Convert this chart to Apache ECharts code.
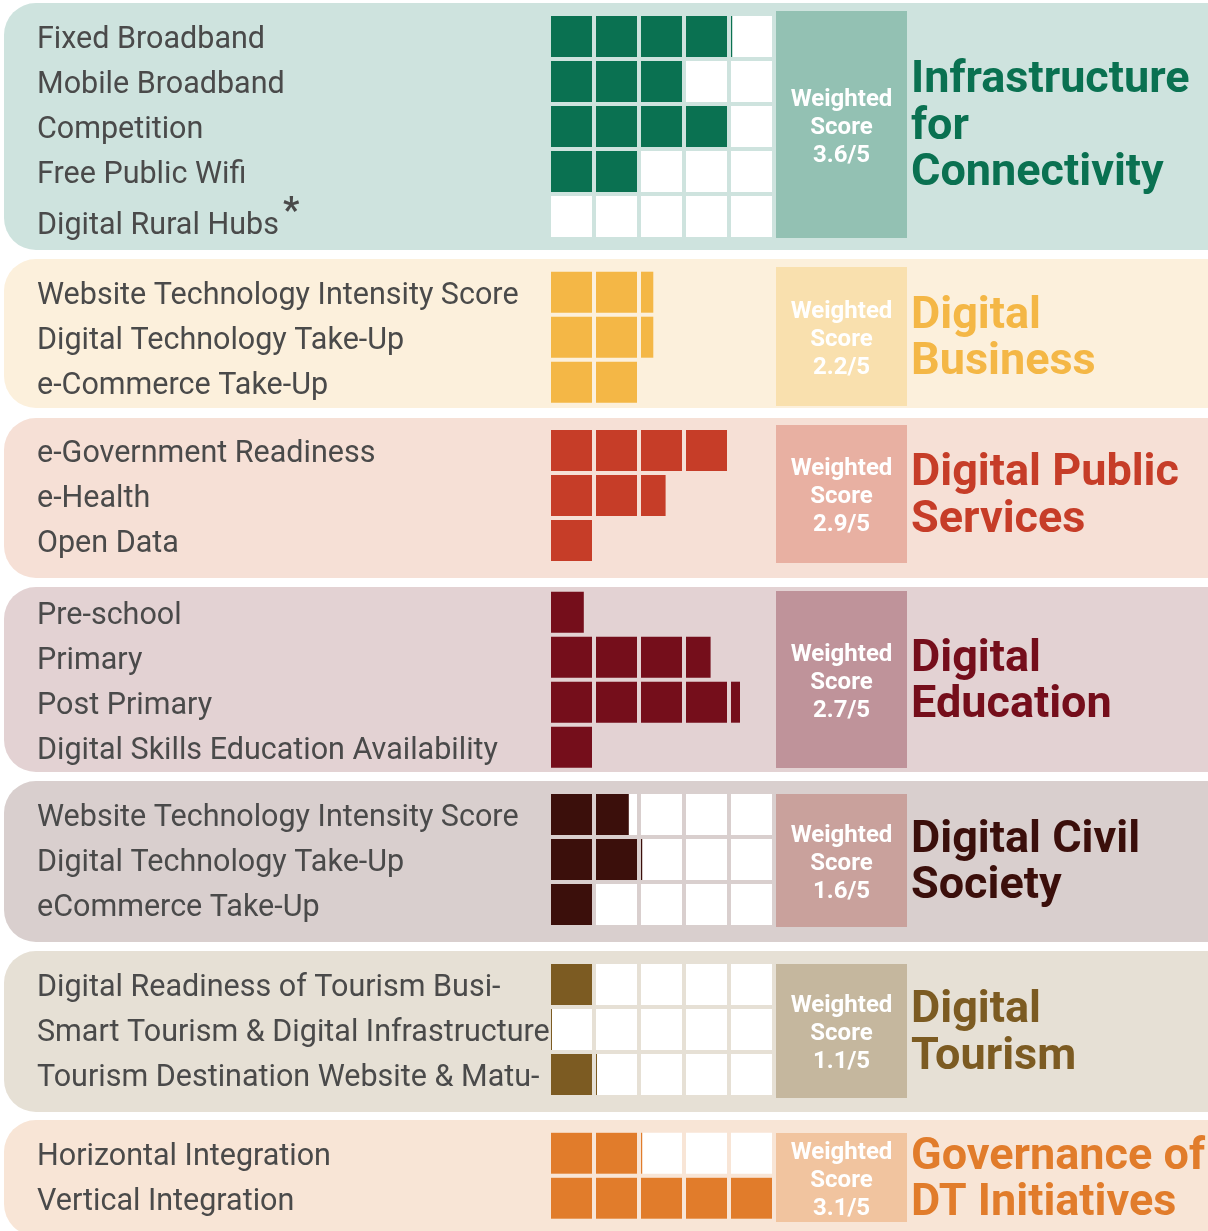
<!DOCTYPE html>
<html>
<head>
<meta charset="utf-8">
<title>Digital Transformation Scores</title>
<script src="https://cdn.jsdelivr.net/npm/echarts@6/dist/echarts.min.js"></script>
<style>
  html, body { margin: 0; padding: 0; background: #fff; }
  #chart { width: 1208px; height: 1231px; }
</style>
</head>
<body>
<div id="chart"></div>
<script>
// indicator scores out of 5, one cell per point
var infraLabels = ['Fixed Broadband', 'Mobile Broadband', 'Competition', 'Free Public Wifi', 'Digital Rural Hubs'];
var infraValues = [4.03, 3, 4, 2, 0];
var businessLabels = ['Website Technology Intensity Score', 'Digital Technology Take-Up', 'e-Commerce Take-Up'];
var businessValues = [2.3, 2.3, 2];
var publicLabels = ['e-Government Readiness', 'e-Health', 'Open Data'];
var publicValues = [4, 2.6, 1];
var educationLabels = ['Pre-school', 'Primary', 'Post Primary', 'Digital Skills Education Availability'];
var educationValues = [0.8, 3.6, 4.22, 1];
var civilLabels = ['Website Technology Intensity Score', 'Digital Technology Take-Up', 'eCommerce Take-Up'];
var civilValues = [1.8, 2.03, 1];
var tourismLabels = ['Digital Readiness of Tourism Busi-', 'Smart Tourism & Digital Infrastructure', 'Tourism Destination Website & Matu-'];
var tourismValues = [1, 0.02, 1.02];
var governanceLabels = ['Horizontal Integration', 'Vertical Integration'];
var governanceValues = [2.03, 5];

var pillarTitles = ['Infrastructure\nfor\nConnectivity', 'Digital\nBusiness', 'Digital Public\nServices',
  'Digital\nEducation', 'Digital Civil\nSociety', 'Digital\nTourism', 'Governance of\nDT Initiatives'];
var weightedScores = ['3.6/5', '2.2/5', '2.9/5', '2.7/5', '1.6/5', '1.1/5', '3.1/5'];

var panels = [
  { labels: infraLabels, values: infraValues, top: 14, empty: true, bg: [3, 250], box: [11, 238],
    fill: '#0a7151', panel: '#cee3de', boxColor: '#93c1b3' },
  { labels: businessLabels, values: businessValues, top: 269.7, empty: false, bg: [259, 408], box: [267, 406],
    fill: '#f4b746', panel: '#fcf0dc', boxColor: '#f9e0ae' },
  { labels: publicLabels, values: publicValues, top: 428, empty: false, bg: [418, 578], box: [425, 563],
    fill: '#c63d28', panel: '#f6e0d6', boxColor: '#e8b0a2' },
  { labels: educationLabels, values: educationValues, top: 589.7, empty: false, bg: [587, 772], box: [591, 768],
    fill: '#750e1b', panel: '#e3d2d3', boxColor: '#bf939a' },
  { labels: civilLabels, values: civilValues, top: 792, empty: true, bg: [781, 942], box: [794, 927],
    fill: '#3b0f0b', panel: '#d9cfce', boxColor: '#c9a19c' },
  { labels: tourismLabels, values: tourismValues, top: 962, empty: true, bg: [951, 1112], box: [964, 1098],
    fill: '#7c5b22', panel: '#e6e0d5', boxColor: '#c5b79e' },
  { labels: governanceLabels, values: governanceValues, top: 1130.7, empty: true, bg: [1120, 1236], box: [1133, 1222],
    fill: '#e17c2b', panel: '#f8e5d6', boxColor: '#f1c49f' }
];

var CELL = 41 / 45;
var labelFont = 'Roboto, "Noto Sans", sans-serif';

function cellRenderer(fillColor, showEmpty) {
  return function (params, api) {
    var row = api.value(0);
    var val = api.value(1);
    var bandH = api.size([0, 1])[1];
    var h = bandH * CELL;
    var kids = [];
    for (var k = 0; k < 5; k++) {
      var p0 = api.coord([k, row]);
      var p1 = api.coord([k + CELL, row]);
      var w = p1[0] - p0[0];
      var y = p0[1] - h / 2;
      if (showEmpty) {
        kids.push({ type: 'rect', shape: { x: p0[0], y: y, width: w, height: h }, style: { fill: '#ffffff' } });
      }
      var f = Math.max(0, Math.min(1, val - k));
      if (f > 0) {
        kids.push({ type: 'rect', shape: { x: p0[0], y: y, width: Math.max(w * f, 1), height: h }, style: { fill: fillColor } });
      }
    }
    return { type: 'group', children: kids };
  };
}

var grids = [], xAxes = [], yAxes = [], series = [], graphics = [];

panels.forEach(function (p, i) {
  grids.push({ left: 551, width: 225, top: p.top, height: p.labels.length * 45, containLabel: false, outerBoundsMode: 'none' });
  xAxes.push({ gridIndex: i, type: 'value', min: 0, max: 5, show: false });
  yAxes.push({
    gridIndex: i, type: 'category', inverse: true, data: p.labels, z: 5,
    axisLine: { show: false }, axisTick: { show: false }, splitLine: { show: false },
    axisLabel: {
      align: 'left', margin: 514, color: '#4a4a4a', fontSize: 30.5, fontFamily: labelFont,
      padding: [8, 0, 0, 0],
      formatter: function (v) {
        return v === 'Digital Rural Hubs' ? '{low|' + v + '}' : v;
      },
      rich: { low: { fontSize: 30.5, fontFamily: labelFont, color: '#4a4a4a', padding: [12, 0, 0, 0] } }
    }
  });
  series.push({
    type: 'custom', xAxisIndex: i, yAxisIndex: i, z: 3,
    renderItem: cellRenderer(p.fill, p.empty),
    data: p.values.map(function (v, r) { return [r, v]; }),
    encode: { x: 1, y: 0 }
  });

  // rounded panel background
  graphics.push({
    type: 'rect', z: -10, shape: { x: 4, y: p.bg[0], width: 1240, height: p.bg[1] - p.bg[0], r: 32 },
    style: { fill: p.panel }
  });
  // weighted score box
  var mid = (p.box[0] + p.box[1]) / 2;
  graphics.push({
    type: 'rect', z: -5, shape: { x: 776, y: p.box[0], width: 131, height: p.box[1] - p.box[0] },
    style: { fill: p.boxColor }
  });
  graphics.push({
    type: 'text', z: 10, x: 841.5, y: mid + 3,
    style: {
      text: 'Weighted\nScore\n' + weightedScores[i], fill: '#ffffff', align: 'center', verticalAlign: 'middle',
      font: 'bold 24px ' + labelFont, lineHeight: 28
    }
  });
  graphics.push({
    type: 'text', z: 10, x: 911, y: mid + 3,
    style: {
      text: pillarTitles[i], fill: p.fill, align: 'left', verticalAlign: 'middle',
      font: 'bold 45px ' + labelFont, lineHeight: 46.5
    }
  });
});

// footnote marker after Digital Rural Hubs
graphics.push({
  type: 'text', z: 10, x: 283, y: 195,
  style: { text: '*', fill: '#4a4a4a', font: 'bold 36px ' + labelFont, align: 'left', verticalAlign: 'top' }
});

var chart = echarts.init(document.getElementById('chart'), null, { renderer: 'canvas' });
chart.setOption({
  animation: false,
  backgroundColor: '#ffffff',
  grid: grids,
  xAxis: xAxes,
  yAxis: yAxes,
  series: series,
  graphic: { elements: graphics }
});
</script>
</body>
</html>
